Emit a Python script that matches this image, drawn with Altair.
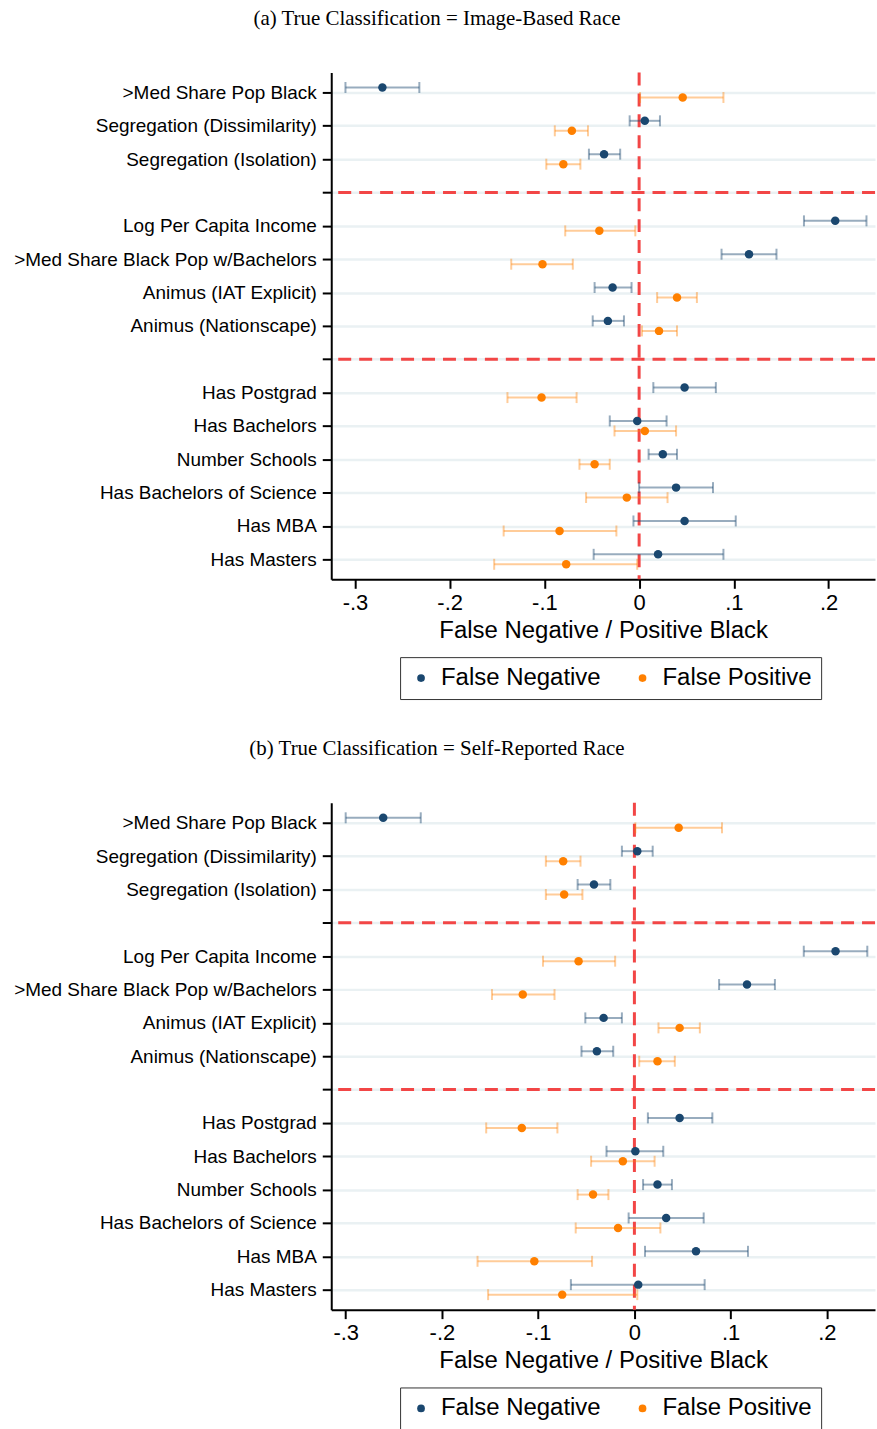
import json
import altair as alt
import pandas as pd

# ---------------- data ----------------
rows = [
    ">Med Share Pop Black",
    "Segregation (Dissimilarity)",
    "Segregation (Isolation)",
    "",
    "Log Per Capita Income",
    ">Med Share Black Pop w/Bachelors",
    "Animus (IAT Explicit)",
    "Animus (Nationscape)",
    " ",
    "Has Postgrad",
    "Has Bachelors",
    "Number Schools",
    "Has Bachelors of Science\u00a0",
    "Has MBA",
    "Has Masters",
]
separators = ["", " "]
series = ["False Negative", "False Positive"]
x_ticks = [-0.3, -0.2, -0.1, 0.0, 0.1, 0.2]
x_tick_labels = ["-.3", "-.2", "-.1", "0", ".1", ".2"]

titles = ["(a) True Classification = Image-Based Race",
          "(b) True Classification = Self-Reported Race"]
x_title = "False Negative / Positive Black"

# panel (a)
a_fn_est = [-0.271, 0.006, -0.037, 0.207, 0.116, -0.028, -0.033, 0.048, -0.002, 0.025, 0.039, 0.048, 0.020]
a_fn_lo = [-0.310, -0.010, -0.053, 0.174, 0.087, -0.047, -0.049, 0.015, -0.031, 0.010, 0.000, -0.006, -0.048]
a_fn_hi = [-0.232, 0.022, -0.020, 0.240, 0.145, -0.008, -0.016, 0.081, 0.029, 0.040, 0.078, 0.102, 0.089]
a_fp_est = [0.046, -0.071, -0.080, -0.042, -0.102, 0.040, 0.021, -0.103, 0.006, -0.047, -0.013, -0.084, -0.077]
a_fp_lo = [0.001, -0.089, -0.098, -0.078, -0.135, 0.019, 0.003, -0.139, -0.026, -0.063, -0.056, -0.143, -0.153]
a_fp_hi = [0.089, -0.054, -0.062, -0.004, -0.070, 0.061, 0.040, -0.066, 0.039, -0.031, 0.030, -0.024, -0.002]

# panel (b)
b_fn_est = [-0.261, 0.003, -0.042, 0.209, 0.117, -0.032, -0.039, 0.047, 0.001, 0.024, 0.033, 0.064, 0.004]
b_fn_lo = [-0.300, -0.013, -0.059, 0.176, 0.088, -0.051, -0.055, 0.014, -0.029, 0.009, -0.006, 0.011, -0.066]
b_fn_hi = [-0.222, 0.019, -0.025, 0.242, 0.146, -0.013, -0.022, 0.081, 0.030, 0.039, 0.072, 0.118, 0.073]
b_fp_est = [0.046, -0.074, -0.073, -0.058, -0.116, 0.047, 0.024, -0.117, -0.012, -0.043, -0.017, -0.104, -0.075]
b_fp_lo = [0.001, -0.092, -0.092, -0.095, -0.148, 0.025, 0.005, -0.154, -0.045, -0.059, -0.061, -0.163, -0.152]
b_fp_hi = [0.091, -0.056, -0.054, -0.020, -0.083, 0.068, 0.042, -0.080, 0.021, -0.027, 0.027, -0.044, 0.003]

x_domains = [[-0.325, 0.249], [-0.315, 0.250]]

# ---------------- style ----------------
NAVY = "#1a476f"
ORANGE = "#ff8000"
RED = "#f24646"
GRID = "#eaf1f3"
SANS = "Liberation Sans"
SERIF = "Liberation Serif"
OFFSET = {"False Negative": -0.15, "False Positive": 0.15}

categories = [r for r in rows if r.strip()]
sep_rows = [rows.index(s) + 1 for s in separators]


def make_df(fn_est, fn_lo, fn_hi, fp_est, fp_lo, fp_hi):
    recs = []
    for i, cat in enumerate(categories):
        r = rows.index(cat) + 1
        recs.append(dict(cat=cat, series=series[0], est=fn_est[i], lo=fn_lo[i], hi=fn_hi[i],
                         pos=r + OFFSET[series[0]]))
        recs.append(dict(cat=cat, series=series[1], est=fp_est[i], lo=fp_lo[i], hi=fp_hi[i],
                         pos=r + OFFSET[series[1]]))
    return pd.DataFrame(recs)


y_label_expr = json.dumps(rows) + "[datum.value - 1]"
x_label_expr = json.dumps(x_tick_labels) + "[round(datum.value * 10) + 3]"


def panel(df, title, xdom):
    xscale = alt.Scale(domain=xdom, nice=False, zero=False)
    yscale = alt.Scale(domain=[0.4, 15.6], reverse=True, nice=False, zero=False)
    xaxis = alt.Axis(values=x_ticks, labelExpr=x_label_expr, title=x_title, grid=False,
                     labelFontSize=22, titleFontSize=24, tickSize=9, tickWidth=2,
                     domainWidth=2, labelPadding=4, titlePadding=5)
    yaxis = alt.Axis(values=list(range(1, len(rows) + 1)), labelExpr=y_label_expr, title=None,
                     grid=True, gridColor=GRID, gridWidth=2.5, labelFontSize=19, labelLimit=500,
                     tickSize=9, tickWidth=2, domainWidth=2, labelPadding=6)

    base = alt.Chart(df)
    X = lambda f: alt.X(f, type="quantitative", scale=xscale, axis=xaxis)
    Y = alt.Y("pos:Q", scale=yscale, axis=yaxis)

    layers = []
    vline = alt.Chart(pd.DataFrame({"z": [0.0]})).mark_rule(
        color=RED, strokeWidth=3, strokeDash=[13, 8]).encode(x=X("z"))
    hlines = alt.Chart(pd.DataFrame({"s": sep_rows})).mark_rule(
        color=RED, strokeWidth=3, strokeDash=[13, 8]).encode(
        y=alt.Y("s:Q", scale=yscale, axis=yaxis))
    layers += [vline, hlines]

    for s, c in zip(series, [NAVY, ORANGE]):
        sub = base.transform_filter(alt.datum.series == s)
        op = 0.45 if s == series[0] else 0.4
        layers.append(sub.mark_rule(color=c, strokeWidth=2, opacity=op).encode(
            x=X("lo"), x2="hi", y=Y))
        layers.append(sub.mark_tick(color=c, orient="vertical", size=11, thickness=2, opacity=op).encode(
            x=X("lo"), y=Y))
        layers.append(sub.mark_tick(color=c, orient="vertical", size=11, thickness=2, opacity=op).encode(
            x=X("hi"), y=Y))

    pts = base.mark_circle(size=72, opacity=1).encode(
        x=X("est"), y=Y,
        color=alt.Color("series:N", scale=alt.Scale(domain=series, range=[NAVY, ORANGE]),
                        legend=alt.Legend(title=None, orient="none", legendX=69, legendY=586,
                                          direction="horizontal", symbolType="circle",
                                          symbolSize=60, symbolStrokeWidth=0, symbolOpacity=1,
                                          labelFontSize=24, labelFont=SANS, labelOffset=8,
                                          labelLimit=400, columnPadding=29, padding=9,
                                          strokeColor="#333333", fillColor="white")))
    layers.append(pts)

    return alt.layer(*layers).properties(
        width=545, height=508,
        title=alt.TitleParams(title, font=SERIF, fontSize=21, fontWeight="normal",
                              color="black", anchor="middle", frame="bounds", offset=42, dx=-8))


pa = panel(make_df(a_fn_est, a_fn_lo, a_fn_hi, a_fp_est, a_fp_lo, a_fp_hi), titles[0], x_domains[0])
pb = panel(make_df(b_fn_est, b_fn_lo, b_fn_hi, b_fp_est, b_fp_lo, b_fp_hi), titles[1], x_domains[1])

chart = alt.vconcat(pa, pb, spacing=38).resolve_scale(
    x="independent", y="independent", color="independent"
).resolve_legend(color="independent").properties(
    padding={"left": 13, "top": 6, "right": 0, "bottom": 0},
    background="white",
).configure_view(stroke=None).configure_axis(
    labelFont=SANS, titleFont=SANS, labelColor="black", titleColor="black",
    titleFontWeight="normal", domainColor="black", tickColor="black",
)

chart.save("out.html", embed_options={"renderer": "svg", "actions": False})
